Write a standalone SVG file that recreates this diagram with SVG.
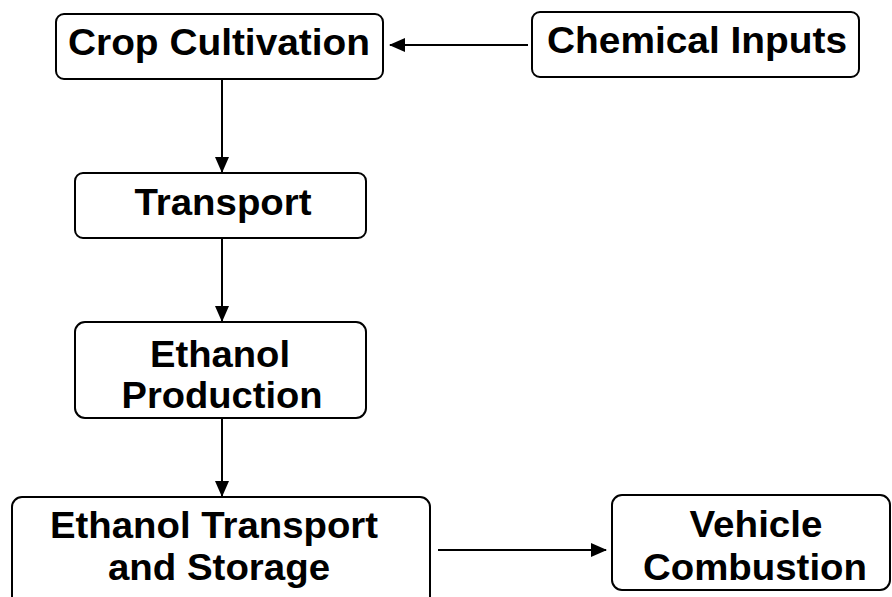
<svg xmlns="http://www.w3.org/2000/svg" width="892" height="597" viewBox="0 0 892 597">
<defs>
<style>
.box{fill:#fff;stroke:#000;stroke-width:2}
.t{font-family:"Liberation Sans",Arial,sans-serif;font-weight:bold;font-size:36px;fill:#000;text-anchor:middle}
.c{stroke:#000;stroke-width:2;fill:none}
</style>
<marker id="ah" viewBox="0 0 16 16" refX="15" refY="8" markerWidth="16" markerHeight="16" markerUnits="userSpaceOnUse" orient="auto">
<path d="M0,1 L16,8 L0,15 Z" fill="#000"/>
</marker>
</defs>
<rect width="892" height="597" fill="#fff"/>
<g id="connectors">
<line class="c" x1="528" y1="45" x2="390" y2="45" marker-end="url(#ah)"/>
<line class="c" x1="222" y1="79" x2="222" y2="172" marker-end="url(#ah)"/>
<line class="c" x1="222" y1="238" x2="222" y2="321" marker-end="url(#ah)"/>
<line class="c" x1="222" y1="418" x2="222" y2="496" marker-end="url(#ah)"/>
<line class="c" x1="438" y1="550" x2="606" y2="550" marker-end="url(#ah)"/>
</g>
<g id="crop">
<rect class="box" x="56" y="14" width="327" height="65" rx="8"/>
<text class="t" x="219" y="55" textLength="302" lengthAdjust="spacingAndGlyphs">Crop Cultivation</text>
</g>
<g id="chemical">
<rect class="box" x="532" y="12" width="327" height="65" rx="8"/>
<text class="t" x="697" y="53" textLength="300" lengthAdjust="spacingAndGlyphs">Chemical Inputs</text>
</g>
<g id="transport">
<rect class="box" x="75" y="173" width="291" height="65" rx="8"/>
<text class="t" x="223" y="215" textLength="177" lengthAdjust="spacingAndGlyphs">Transport</text>
</g>
<g id="production">
<rect class="box" x="75" y="322" width="291" height="96" rx="10"/>
<text class="t" x="220" y="367" textLength="140" lengthAdjust="spacingAndGlyphs">Ethanol</text>
<text class="t" x="222" y="408" textLength="201" lengthAdjust="spacingAndGlyphs">Production</text>
</g>
<g id="storage">
<rect class="box" x="12" y="497" width="418" height="115" rx="10"/>
<text class="t" x="214" y="538" textLength="328" lengthAdjust="spacingAndGlyphs">Ethanol Transport</text>
<text class="t" x="219" y="580" textLength="222" lengthAdjust="spacingAndGlyphs">and Storage</text>
</g>
<g id="combustion">
<rect class="box" x="612" y="495" width="278" height="95" rx="10"/>
<text class="t" x="756" y="537" textLength="133" lengthAdjust="spacingAndGlyphs">Vehicle</text>
<text class="t" x="755" y="580" textLength="224" lengthAdjust="spacingAndGlyphs">Combustion</text>
</g>
</svg>
